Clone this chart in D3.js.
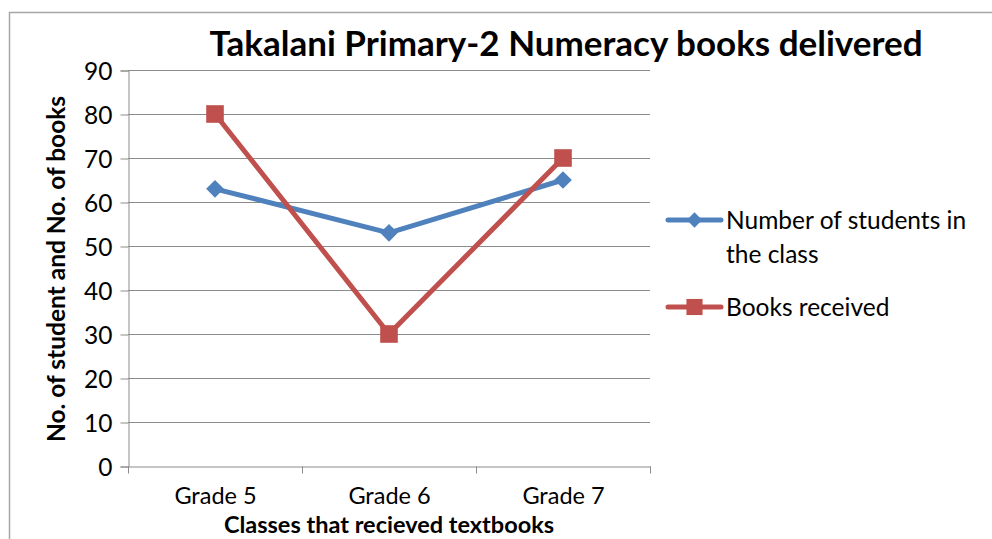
<!DOCTYPE html>
<html><head><meta charset="utf-8">
<script src="https://cdn.jsdelivr.net/npm/d3@7"></script>
<style>body{margin:0;background:#fff}svg{display:block}text{font-family:Lato,"Open Sans",sans-serif}</style>
</head><body><svg id="c" width="992" height="539"></svg>
<script>
const categories = ["Grade 5", "Grade 6", "Grade 7"];
const students = [63, 53, 65];
const books = [80, 30, 70];
const yTicks = [0, 10, 20, 30, 40, 50, 60, 70, 80, 90];
const seriesNames = ["Number of students in the class", "Books received"];

const svg = d3.select("#c");
svg.append("rect").attr("x", 9.5).attr("y", 12.5).attr("width", 1000).attr("height", 600)
  .attr("fill", "none").attr("stroke", "#a6a6a6").attr("stroke-width", 1.5);

const m = {l: 128, r: 650, t: 70, b: 466};
const x = d3.scaleBand().domain(categories).range([m.l, m.r]);
const y = d3.scaleLinear().domain([0, 90]).range([m.b, m.t]);

const g = svg.append("g");
g.selectAll(".grid").data(yTicks.filter(d => d > 0)).join("line")
  .attr("x1", m.l).attr("x2", m.r).attr("y1", d => Math.round(y(d)) + 0.5).attr("y2", d => Math.round(y(d)) + 0.5)
  .attr("stroke", "#8c8c8c").attr("stroke-width", 1);

const ya = g.append("g").attr("transform", `translate(${m.l + 0.5},0.5)`)
  .call(d3.axisLeft(y).tickValues(yTicks).tickSize(8).tickPadding(8));
ya.select(".domain").attr("stroke", "#8c8c8c");
ya.selectAll(".tick line").attr("stroke", "#8c8c8c");
ya.selectAll(".tick text").attr("font-size", 24.5).attr("fill", "#000").attr("dy", "0.35em");

const xa = g.append("g").attr("transform", `translate(0.5,${m.b + 0.5})`)
  .call(d3.axisBottom(x).tickSize(0).tickPadding(0));
xa.select(".domain").attr("stroke", "#8c8c8c");
xa.selectAll(".tick text").attr("font-size", 23.5).attr("fill", "#000").attr("dy", null).attr("y", 37);
const bounds = categories.map(c => x(c)).concat([m.r]);
xa.selectAll(".xt").data(bounds).join("line").attr("class", "xt")
  .attr("x1", d => d).attr("x2", d => d).attr("y1", 0).attr("y2", 7).attr("stroke", "#8c8c8c");

const cx = c => x(c) + x.bandwidth() / 2;
const line = d3.line().x((d, i) => cx(categories[i])).y(d => y(d));
const blue = "#4f81bd", red = "#c0504d";

g.append("path").datum(students).attr("d", line).attr("fill", "none").attr("stroke", blue).attr("stroke-width", 5).attr("stroke-linejoin", "round");
g.append("path").datum(books).attr("d", line).attr("fill", "none").attr("stroke", red).attr("stroke-width", 5).attr("stroke-linejoin", "round");

const diamond = d3.symbol().type(d3.symbolDiamond2).size(200);
const square = d3.symbol().type(d3.symbolSquare).size(310);
g.selectAll(".sm").data(students).join("path").attr("class", "sm")
  .attr("transform", (d, i) => `translate(${cx(categories[i])},${y(d)})`)
  .attr("d", diamond).attr("fill", blue);
g.selectAll(".bm").data(books).join("path").attr("class", "bm")
  .attr("transform", (d, i) => `translate(${cx(categories[i])},${y(d)})`)
  .attr("d", square).attr("fill", red);

svg.append("text").attr("x", 566).attr("y", 56).attr("text-anchor", "middle")
  .attr("font-size", 35).attr("font-weight", "bold").text("Takalani Primary-2 Numeracy books delivered");
svg.append("text").attr("transform", "translate(65,269) rotate(-90)").attr("text-anchor", "middle")
  .attr("font-size", 24.5).attr("font-weight", "bold").text("No. of student and No. of books");
svg.append("text").attr("x", 389).attr("y", 533).attr("text-anchor", "middle")
  .attr("font-size", 23.5).attr("font-weight", "bold").text("Classes that recieved textbooks");

const leg = svg.append("g");
const items = [
  {lines: ["Number of students in", "the class"], color: blue, y: 220},
  {lines: ["Books received"], color: red, y: 307}
];
items.forEach((it, k) => {
  leg.append("line").attr("x1", 668).attr("x2", 721).attr("y1", it.y).attr("y2", it.y)
    .attr("stroke", it.color).attr("stroke-width", 5).attr("stroke-linecap", "round");
  leg.append("path").attr("transform", `translate(694.5,${it.y})`).attr("d", k === 0 ? d3.symbol().type(d3.symbolDiamond2).size(150)() : d3.symbol().type(d3.symbolSquare).size(260)()).attr("fill", it.color);
  it.lines.forEach((t, j) => {
    leg.append("text").attr("x", 726).attr("y", it.y + 9 + j * 34).attr("font-size", 24.5).text(t);
  });
});
</script></body></html>
